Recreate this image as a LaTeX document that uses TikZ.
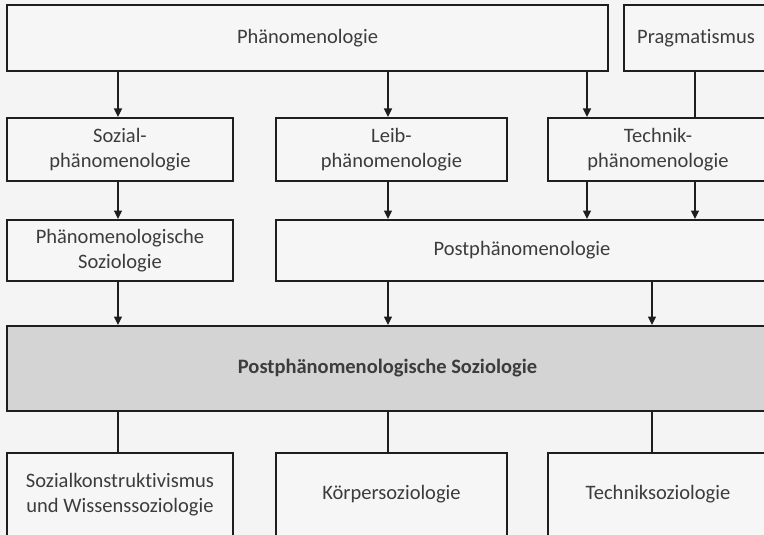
\documentclass[tikz,border=0pt]{standalone}
\usepackage{fontspec}
\setmainfont[Ligatures={NoCommon}]{Carlito}
\usetikzlibrary{arrows.meta}
\definecolor{bg}{HTML}{F4F4F4}
\definecolor{boxfill}{HTML}{F6F6F6}
\definecolor{grayfill}{HTML}{D4D4D4}
\definecolor{txt}{HTML}{3C3C3C}
\definecolor{edge}{HTML}{1E1E1E}
\tikzset{
  box/.style={draw=edge, line width=2pt, fill=boxfill, inner sep=0pt, align=center,
    text=txt, font=\fontsize{20.5}{25}\selectfont},
  graybox/.style={box, fill=grayfill, font=\fontsize{20.5}{25}\selectfont\bfseries},
  arr/.style={draw=edge, line width=1.5pt, -{Triangle[length=8.5pt,width=8pt]}},
  plain/.style={draw=edge, line width=1.5pt}
}
\begin{document}
\begin{tikzpicture}[x=1pt,y=-1pt]
\useasboundingbox (0,0) rectangle (764,535);
\fill[bg] (0,0) rectangle (764,535);
\clip (0,0) rectangle (764,535);
% columns
\coordinate (xa) at (118,0);
\coordinate (xb) at (388,0);
\coordinate (xc) at (587,0);
\coordinate (xd) at (695,0);
\coordinate (xe) at (652,0);
% boxes
\node[box, minimum width=601, minimum height=66] (phan) at (307.5,38) {Phänomenologie};
\node[box, minimum width=144, minimum height=66] (prag) at (696,38) {Pragmatismus};
\node[box, minimum width=226, minimum height=63] (soz) at (120,149.5) {Sozial-\\phänomenologie};
\node[box, minimum width=231, minimum height=63] (leib) at (391.5,149.5) {Leib-\\phänomenologie};
\node[box, minimum width=220, minimum height=63] (tech) at (658,149.5) {Technik-\\phänomenologie};
\node[box, minimum width=226, minimum height=61] (phsoz) at (120,250.5) {Phänomenologische\\Soziologie};
\node[box, minimum width=492, minimum height=61] (post) at (522,250.5) {Postphänomenologie};
\node[graybox, minimum width=761, minimum height=85] (pps) at (387.5,368.5) {Postphänomenologische Soziologie};
\node[box, minimum width=226, minimum height=83] (skw) at (120,494.5) {Sozialkonstruktivismus\\und Wissenssoziologie};
\node[box, minimum width=231, minimum height=83] (koer) at (391.5,494.5) {Körpersoziologie};
\node[box, minimum width=220, minimum height=83] (tsoz) at (658,494.5) {Techniksoziologie};
% connectors
\draw[arr] (phan.south -| xa) -- (soz.north -| xa);
\draw[arr] (phan.south -| xb) -- (leib.north -| xb);
\draw[arr] (phan.south -| xc) -- (tech.north -| xc);
\draw[plain] (prag.south -| xd) -- (tech.north -| xd);
\draw[arr] (soz.south -| xa) -- (phsoz.north -| xa);
\draw[arr] (leib.south -| xb) -- (post.north -| xb);
\draw[arr] (tech.south -| xc) -- (post.north -| xc);
\draw[arr] (tech.south -| xd) -- (post.north -| xd);
\draw[arr] (phsoz.south -| xa) -- (pps.north -| xa);
\draw[arr] (post.south -| xb) -- (pps.north -| xb);
\draw[arr] (post.south -| xe) -- (pps.north -| xe);
\draw[plain] (pps.south -| xa) -- (skw.north -| xa);
\draw[plain] (pps.south -| xb) -- (koer.north -| xb);
\draw[plain] (pps.south -| xe) -- (tsoz.north -| xe);
\end{tikzpicture}
\end{document}
